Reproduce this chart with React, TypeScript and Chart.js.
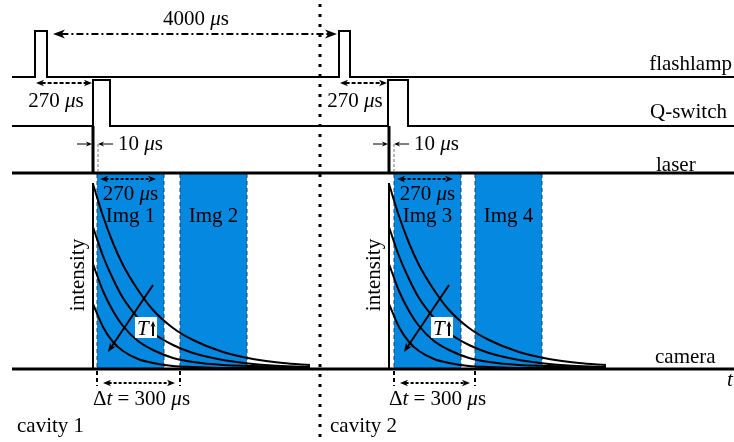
import React, { useEffect, useRef } from 'react';
import { Chart, registerables } from 'chart.js';

Chart.register(...registerables);

// ---------- data: schematic time along x, diagram rows along y ----------
const flashlampPulses = [[35, 47], [339, 350]];
const qSwitchPulses = [[93, 110], [388, 408]];
const laserPulses = [93, 389];
const cavityStarts = [93, 389];
const imageWindows = [[97, 164], [180, 247], [394, 461], [475, 542]];
const imageLabels = ['Img 1', 'Img 2', 'Img 3', 'Img 4'];
const cavityLabels = ['cavity 1', 'cavity 2'];
const signalNames = ['flashlamp', 'Q-switch', 'laser', 'camera'];
const decayTimes = [0, 10, 20, 30, 45, 60, 80, 100, 130, 160, 190, 217];
const decayT1 = [184, 152, 125, 103, 78, 58, 40, 28, 16, 9, 5, 3];
const decayT2 = [141, 112, 89, 70, 50, 35, 23, 15, 8, 4, 2, 1];
const decayT3 = [104, 77, 57, 42, 27, 18, 10, 6, 3, 2, 1, 0];
const decayT4 = [64, 41, 26, 17, 9, 5, 2, 1, 0, 0, 0, 0];
const periodLabel = '4000';
const delayLabel = '270';
const laserWidthLabel = '10';
const exposureLabel = '270';
const separationLabel = '300';

const W = 734;
const H = 442;
const BLUE = '#0588E0';
const FONT = '"Liberation Serif", "Times New Roman", serif';

const ROW = {
  flashBase: 77,
  flashTop: 31,
  qBase: 126,
  qTop: 80,
  laser: 173,
  imgTop: 174,
  zero: 368,
  camera: 369,
  axisTop: 183,
  x0: 12,
  x1: 734,
};

type P = [number, number];

function seg(points: P[], width: number, opts: any = {}) {
  return {
    data: points.map(([x, y]) => ({ x, y })),
    borderColor: '#000',
    backgroundColor: 'transparent',
    borderWidth: width,
    pointRadius: 0,
    fill: false,
    tension: 0,
    borderJoinStyle: 'miter',
    borderCapStyle: 'butt',
    order: 0,
    ...opts,
  };
}

function pulseTrain(pulses: number[][], base: number, top: number): P[] {
  const pts: P[] = [[ROW.x0, base]];
  pulses.forEach(([a, b]) => {
    pts.push([a, base], [a, top], [b, top], [b, base]);
  });
  pts.push([ROW.x1, base]);
  return pts;
}

function buildDatasets() {
  const ds: any[] = [];
  // camera exposure windows
  imageWindows.forEach(([a, b]) => {
    ds.push({
      data: [
        { x: a, y: ROW.imgTop },
        { x: b, y: ROW.imgTop },
      ],
      borderColor: 'transparent',
      borderWidth: 0,
      backgroundColor: BLUE,
      fill: { value: ROW.zero },
      pointRadius: 0,
      tension: 0,
      order: 5,
    });
    [a, b].forEach((e) => {
      ds.push(
        seg([[e, ROW.imgTop], [e, ROW.zero]], 1, {
          borderColor: '#23405f',
          borderDash: [4, 3],
          order: 4,
        })
      );
    });
  });
  // signals
  ds.push(seg(pulseTrain(flashlampPulses, ROW.flashBase, ROW.flashTop), 2));
  ds.push(seg(pulseTrain(qSwitchPulses, ROW.qBase, ROW.qTop), 2));
  ds.push(seg([[ROW.x0, ROW.laser], [ROW.x1, ROW.laser]], 3));
  laserPulses.forEach((p) => ds.push(seg([[p, ROW.qBase], [p, ROW.laser]], 3)));
  ds.push(seg([[ROW.x0, ROW.camera], [ROW.x1, ROW.camera]], 3));
  // intensity decays
  cavityStarts.forEach((s) => {
    ds.push(seg([[s, ROW.axisTop], [s, ROW.camera]], 2));
    [decayT1, decayT2, decayT3, decayT4].forEach((curve) => {
      ds.push(
        seg(
          decayTimes.map((t, i) => [s + t, ROW.zero - curve[i]] as P),
          2,
          { cubicInterpolationMode: 'monotone' }
        )
      );
    });
  });
  // cavity divider
  ds.push(seg([[320, 4], [320, 440]], 3, { borderDash: [3, 7] }));
  return ds;
}

function drawHead(ctx: CanvasRenderingContext2D, x: number, y: number, ang: number, len: number, half: number) {
  const c = Math.cos(ang);
  const s = Math.sin(ang);
  ctx.beginPath();
  ctx.moveTo(x, y);
  ctx.lineTo(x - len * c + half * s, y - len * s - half * c);
  ctx.lineTo(x - len * 0.72 * c, y - len * 0.72 * s);
  ctx.lineTo(x - len * c - half * s, y - len * s + half * c);
  ctx.closePath();
  ctx.fill();
}

function arrow(
  ctx: CanvasRenderingContext2D,
  x1: number,
  y1: number,
  x2: number,
  y2: number,
  o: { dash?: number[]; width?: number; h1?: boolean; h2?: boolean; len?: number; half?: number } = {}
) {
  const { dash = [], width = 2, h1 = false, h2 = true, len = 8, half = 3.2 } = o;
  const ang = Math.atan2(y2 - y1, x2 - x1);
  const c = Math.cos(ang);
  const s = Math.sin(ang);
  ctx.save();
  ctx.strokeStyle = '#000';
  ctx.fillStyle = '#000';
  ctx.lineWidth = width;
  ctx.setLineDash(dash);
  ctx.beginPath();
  const ax = h1 ? x1 + c * len * 0.7 : x1;
  const ay = h1 ? y1 + s * len * 0.7 : y1;
  const bx = h2 ? x2 - c * len * 0.7 : x2;
  const by = h2 ? y2 - s * len * 0.7 : y2;
  ctx.moveTo(ax, ay);
  ctx.lineTo(bx, by);
  ctx.stroke();
  ctx.setLineDash([]);
  if (h2) drawHead(ctx, x2, y2, ang, len, half);
  if (h1) drawHead(ctx, x1, y1, ang + Math.PI, len, half);
  ctx.restore();
}

type Run = [string, boolean];

function text(ctx: CanvasRenderingContext2D, parts: Run[], x: number, y: number, align = 'center', size = 21) {
  const fontOf = (it: boolean) => `${it ? 'italic ' : ''}${size}px ${FONT}`;
  let total = 0;
  const widths = parts.map(([t, it]) => {
    ctx.font = fontOf(it);
    const w = ctx.measureText(t).width;
    total += w;
    return w;
  });
  let cx = align === 'center' ? x - total / 2 : align === 'right' ? x - total : x;
  ctx.save();
  ctx.textBaseline = 'alphabetic';
  ctx.textAlign = 'left';
  ctx.fillStyle = '#000';
  parts.forEach(([t, it], i) => {
    ctx.font = fontOf(it);
    ctx.fillText(t, cx, y);
    cx += widths[i];
  });
  ctx.restore();
}

const mu = (n: string): Run[] => [[n + ' ', false], ['\u03bc', true], ['s', false]];

const annotationPlugin = {
  id: 'timingAnnotations',
  afterDatasetsDraw(chart: any) {
    const ctx: CanvasRenderingContext2D = chart.ctx;
    const X = (v: number) => chart.scales.x.getPixelForValue(v);
    const Y = (v: number) => chart.scales.y.getPixelForValue(v);

    // period between flashes
    arrow(ctx, X(flashlampPulses[0][1] + 6), Y(34), X(flashlampPulses[1][0] - 2), Y(34), {
      dash: [7, 3, 2, 3],
      h1: true,
      len: 12,
      half: 4.5,
    });
    text(ctx, mu(periodLabel), X(196), Y(25));

    // flashlamp -> Q-switch delay
    const delayCenters = [56, 355];
    flashlampPulses.forEach((fp, i) => {
      arrow(ctx, X(fp[0] + 1), Y(83), X(qSwitchPulses[i][0] - 1), Y(83), { dash: [4, 2], h1: true });
      text(ctx, mu(delayLabel), X(delayCenters[i]), Y(107));
    });

    // laser pulse width
    laserPulses.forEach((p) => {
      arrow(ctx, X(p - 16), Y(144), X(p - 1), Y(144), { width: 1, len: 6, half: 2.5 });
      arrow(ctx, X(p + 20), Y(144), X(p + 5), Y(144), { width: 1, len: 6, half: 2.5 });
      ctx.save();
      ctx.strokeStyle = '#777';
      ctx.lineWidth = 1;
      ctx.setLineDash([3, 2]);
      ctx.beginPath();
      ctx.moveTo(X(p + 5), Y(144));
      ctx.lineTo(X(p + 5), Y(172));
      ctx.stroke();
      ctx.restore();
      text(ctx, mu(laserWidthLabel), X(p + 25), Y(150), 'left');
    });

    // exposure windows & labels
    imageWindows.forEach(([a, b], i) => {
      text(ctx, [[imageLabels[i], false]], X((a + b) / 2), Y(222));
    });
    cavityStarts.forEach((s, c) => {
      const [a, b] = imageWindows[2 * c];
      const a2 = imageWindows[2 * c + 1][0];
      arrow(ctx, X(a + 3), Y(179), X(b - 8), Y(179), { dash: [3, 2], h1: true });
      text(ctx, mu(exposureLabel), X((a + b) / 2), Y(200));

      // separation Δt
      ctx.save();
      ctx.strokeStyle = '#000';
      ctx.lineWidth = 2;
      ctx.setLineDash([4, 3]);
      [a, a2].forEach((e) => {
        ctx.beginPath();
        ctx.moveTo(X(e), Y(371));
        ctx.lineTo(X(e), Y(386));
        ctx.stroke();
      });
      ctx.restore();
      arrow(ctx, X(a + 6), Y(383), X(a2 - 5), Y(383), { dash: [3, 2], h1: true });
      text(
        ctx,
        [
          ['\u0394', false],
          ['t', true],
          [' = ' + separationLabel + ' ', false],
          ['\u03bc', true],
          ['s', false],
        ],
        X((a + a2) / 2 + 3),
        Y(405)
      );

      // intensity axis label
      ctx.save();
      ctx.translate(X(s - 9), Y(275));
      ctx.rotate(-Math.PI / 2);
      ctx.font = `21px ${FONT}`;
      ctx.fillStyle = '#000';
      ctx.textAlign = 'center';
      ctx.textBaseline = 'alphabetic';
      ctx.fillText('intensity', 0, 0);
      ctx.restore();

      // temperature arrow
      arrow(ctx, X(s + 60), Y(285), X(s + 15), Y(352), { width: 2, len: 9, half: 3.5 });
      ctx.save();
      ctx.fillStyle = '#fff';
      ctx.fillRect(X(s + 42), Y(317), X(s + 64) - X(s + 42), Y(338) - Y(317));
      ctx.restore();
      text(ctx, [['T', true]], X(s + 44), Y(335), 'left');
      arrow(ctx, X(s + 60), Y(336), X(s + 60), Y(321), { width: 2, len: 6, half: 2.5 });

      text(ctx, [[cavityLabels[c], false]], X([17, 330][c]), Y(432), 'left');
    });

    // signal names
    text(ctx, [[signalNames[0], false]], X(732), Y(70), 'right');
    text(ctx, [[signalNames[1], false]], X(727), Y(118), 'right');
    text(ctx, [[signalNames[2], false]], X(656), Y(171), 'left');
    text(ctx, [[signalNames[3], false]], X(655), Y(363), 'left');
    text(ctx, [['t', true]], X(727), Y(386), 'left');
  },
};

export default function App() {
  const ref = useRef<HTMLCanvasElement | null>(null);
  useEffect(() => {
    if (!ref.current) return;
    const chart = new Chart(ref.current, {
      type: 'line',
      data: { datasets: buildDatasets() },
      options: {
        animation: false,
        responsive: false,
        maintainAspectRatio: false,
        events: [],
        layout: { padding: 0 },
        plugins: {
          legend: { display: false },
          tooltip: { enabled: false },
          title: { display: false },
        },
        scales: {
          x: { type: 'linear', min: 0, max: W, display: false },
          y: { type: 'linear', min: 0, max: H, reverse: true, display: false },
        },
      },
      plugins: [annotationPlugin],
    } as any);
    return () => chart.destroy();
  }, []);
  return (
    <div style={{ position: 'absolute', left: 0, top: 0, width: W, height: H, background: '#fff' }}>
      <canvas ref={ref} width={W} height={H} style={{ display: 'block' }} />
    </div>
  );
}
